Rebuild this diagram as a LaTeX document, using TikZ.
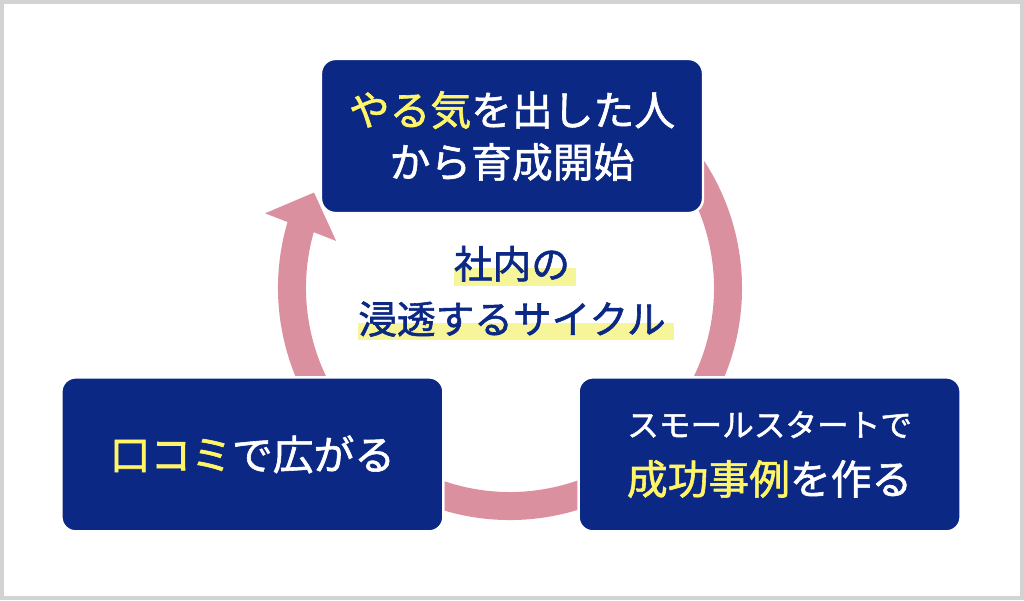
\documentclass[tikz,border=0pt]{standalone}
\usepackage{fontspec}
\setmainfont{Noto Sans CJK JP}[FakeBold=1.5]
\usetikzlibrary{arrows.meta,bending,backgrounds}

\definecolor{navy}{HTML}{0B2884}
\definecolor{ylw}{HTML}{FFF566}
\definecolor{hlyel}{HTML}{F7F59A}
\definecolor{rose}{HTML}{DB909F}
\definecolor{frameg}{HTML}{D3D3D3}

\begin{document}
\begin{tikzpicture}[
  font=\fontsize{29}{37}\selectfont,
  box/.style={draw=white, line width=0.06cm, rounded corners=0.36cm, fill=navy, text=white,
              minimum width=9.55cm, minimum height=3.85cm, align=center, inner sep=0pt},
  mid/.style={text=navy, anchor=base, inner sep=0pt, font=\fontsize{27.5}{30}\selectfont},
  hl/.style={fill=hlyel},
  ring/.style={-{Triangle[length=0.93cm, width=1.85cm]}, line width=0.7cm, draw=rose}
]
\useasboundingbox (-12.75,7.2) rectangle (12.85,-7.8);
\draw[frameg, line width=0.1cm] (-12.7,7.15) rectangle (12.8,-7.75);

% cycle ring
\draw[ring] (60:5.45) arc[start angle=60, end angle=-206, radius=5.45cm];

\node[box] (top) at (0.05,3.8)      {\textcolor{ylw}{やる気}を出した人\\から育成開始};
\node[box] (left) at (-6.44,-4.16)  {\textcolor{ylw}{口コミ}で広がる};
\node[box] (right) at (6.49,-4.16)  {{\fontsize{22.5}{30}\selectfont スモールスタートで}\\[4pt]
                                     \textcolor{ylw}{成功事例}を作る};

\node[mid] (l1) at (0.05,0.24)  {社内の};
\node[mid] (l2) at (0.05,-1.14) {浸透するサイクル};

\begin{scope}[on background layer]
\fill[hl] ([yshift=-0.19cm]l1.base west) rectangle ([xshift=0.15cm,yshift=0.26cm]l1.base east);
\fill[hl] ([yshift=-0.17cm]l2.base west) rectangle ([xshift=0.2cm,yshift=0.26cm]l2.base east);
\end{scope}
\end{tikzpicture}
\end{document}
